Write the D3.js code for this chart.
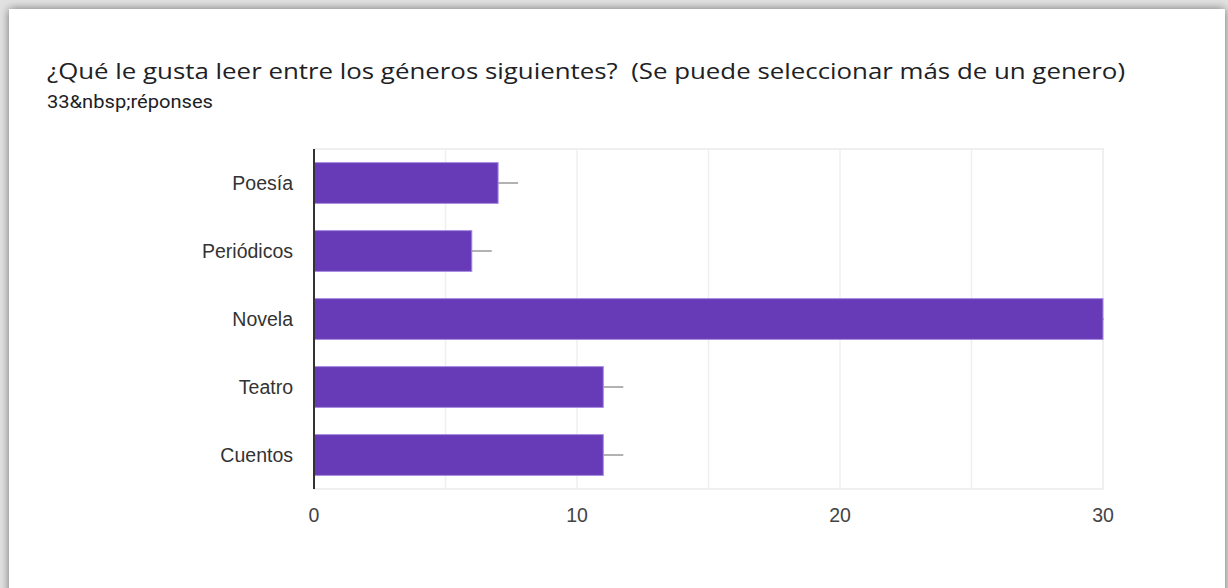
<!DOCTYPE html>
<html>
<head>
<meta charset="utf-8">
<script src="https://cdn.jsdelivr.net/npm/d3@7"></script>
<style>
  html, body { margin: 0; padding: 0; background: #e2e2e2; }
  #chart { width: 1228px; height: 588px; }
</style>
</head>
<body>
<div id="chart"></div>
<script>
const genres = ['Poesía', 'Periódicos', 'Novela', 'Teatro', 'Cuentos'];
const counts = [7, 6, 30, 11, 11];
const xTicks = [0, 10, 20, 30];
const gridTicks = [5, 10, 15, 20, 25, 30];
const title = '¿Qué le gusta leer entre los géneros siguientes?  (Se puede seleccionar más de un genero)';
const subtitle = '33&nbsp;réponses';

const width = 1228;
const height = 588;
const margin = { top: 149, right: 125, bottom: 99, left: 314 };

const svg = d3.select('#chart')
  .append('svg')
  .attr('width', width)
  .attr('height', height);

const defs = svg.append('defs');
const shadow = defs.append('filter')
  .attr('id', 'shadow')
  .attr('x', '-5%').attr('y', '-5%')
  .attr('width', '110%').attr('height', '110%');
shadow.append('feDropShadow')
  .attr('dx', 0).attr('dy', 0)
  .attr('stdDeviation', 5)
  .attr('flood-color', '#000')
  .attr('flood-opacity', 0.5);

// card
svg.append('rect')
  .attr('x', 9)
  .attr('y', 9)
  .attr('width', 1216)
  .attr('height', 620)
  .attr('fill', '#fff')
  .attr('filter', 'url(#shadow)');

svg.append('text')
  .attr('x', 47)
  .attr('y', 79)
  .style('font-family', '"Open Sans", Roboto, sans-serif')
  .style('font-size', '22px')
  .style('white-space', 'pre')
  .attr('xml:space', 'preserve')
  .attr('fill', '#202124')
  .attr('textLength', 1078)
  .attr('lengthAdjust', 'spacingAndGlyphs')
  .text(title);

svg.append('text')
  .attr('x', 47)
  .attr('y', 108)
  .style('font-family', 'Roboto, sans-serif')
  .style('font-size', '18px')
  .attr('fill', '#202124')
  .attr('textLength', 166)
  .attr('lengthAdjust', 'spacingAndGlyphs')
  .text(subtitle);

const innerWidth = width - margin.left - margin.right;
const innerHeight = height - margin.top - margin.bottom;

const chart = svg.append('g')
  .attr('transform', `translate(${margin.left}, ${margin.top})`);

const x = d3.scaleLinear()
  .domain([0, 30])
  .range([0, 789]);

const y = d3.scaleBand()
  .domain(genres)
  .range([0, innerHeight])
  .paddingInner(0.4)
  .paddingOuter(0.2);

// plot frame + gridlines
chart.append('rect')
  .attr('x', 0)
  .attr('y', 0)
  .attr('width', x(30))
  .attr('height', innerHeight)
  .attr('fill', 'none')
  .attr('stroke', '#efefef')
  .attr('stroke-width', 2);

chart.append('g')
  .selectAll('line')
  .data(gridTicks)
  .enter()
  .append('line')
  .attr('x1', d => x(d))
  .attr('x2', d => x(d))
  .attr('y1', 0)
  .attr('y2', innerHeight)
  .attr('stroke', '#efefef')
  .attr('stroke-width', 1.5);

// whiskers
chart.append('g')
  .selectAll('line')
  .data(genres)
  .enter()
  .append('line')
  .attr('x1', (d, i) => x(counts[i]))
  .attr('x2', (d, i) => counts[i] === 30 ? x(counts[i]) + 1 : x(counts[i]) + 20)
  .attr('y1', d => y(d) + y.bandwidth() / 2)
  .attr('y2', d => y(d) + y.bandwidth() / 2)
  .attr('stroke', '#999')
  .attr('stroke-width', 1.5);

chart.append('g')
  .selectAll('rect')
  .data(genres)
  .enter()
  .append('rect')
  .attr('x', 0)
  .attr('y', d => y(d))
  .attr('width', (d, i) => x(counts[i]))
  .attr('height', y.bandwidth())
  .attr('fill', '#673ab7')
  .attr('stroke', '#a68be0')
  .attr('stroke-width', 1);

// y axis line
chart.append('line')
  .attr('x1', 0)
  .attr('x2', 0)
  .attr('y1', 0)
  .attr('y2', innerHeight)
  .attr('stroke', '#333')
  .attr('stroke-width', 2);

chart.append('g')
  .selectAll('text')
  .data(genres)
  .enter()
  .append('text')
  .attr('x', -21)
  .attr('y', d => y(d) + y.bandwidth() / 2)
  .attr('dy', '0.35em')
  .attr('text-anchor', 'end')
  .style('font-family', '"Liberation Sans", Arial, sans-serif')
  .style('font-size', '19.5px')
  .attr('fill', '#333')
  .text(d => d);

chart.append('g')
  .selectAll('text')
  .data(xTicks)
  .enter()
  .append('text')
  .attr('x', d => x(d))
  .attr('y', innerHeight + 33)
  .attr('text-anchor', 'middle')
  .style('font-family', '"Liberation Sans", Arial, sans-serif')
  .style('font-size', '19.5px')
  .attr('fill', '#444')
  .text(d => d);
</script>
</body>
</html>
